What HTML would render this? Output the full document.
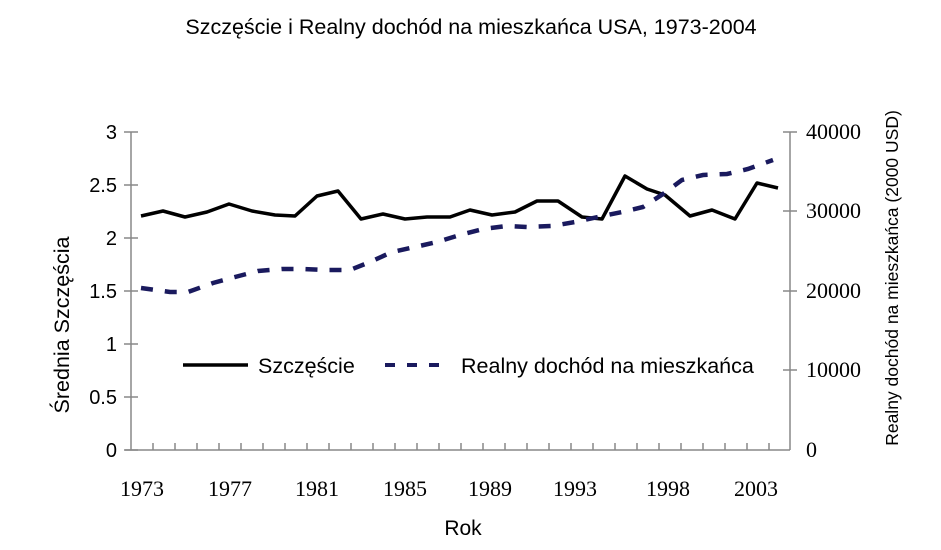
<!DOCTYPE html>
<html><head><meta charset="utf-8"><style>body{margin:0;background:#fff}svg{display:block}</style></head><body>
<svg width="941" height="550" xmlns="http://www.w3.org/2000/svg">
<text x="471" y="34" font-family="Liberation Sans, sans-serif" font-size="21.5" text-anchor="middle">Szczęście i Realny dochód na mieszkańca USA, 1973-2004</text>
<g stroke="#888" stroke-width="1.5" fill="none">
<line x1="131" y1="132" x2="131" y2="450"/>
<line x1="125" y1="450" x2="790" y2="450"/>
<line x1="790" y1="132" x2="790" y2="450"/>
<path d="M124 132h14M124 185h14M124 238h14M124 291h14M124 344h14M124 397h14M124 450h14"/>
<path d="M783 132h14M783 211h14M783 291h14M783 370h14"/>
<path d="M153 450v-7M175 450v-7M197 450v-7M219 450v-7M241 450v-7M263 450v-7M285 450v-7M307 450v-7M329 450v-7M351 450v-7M373 450v-7M395 450v-7M417 450v-7M439 450v-7M461 450v-7M483 450v-7M505 450v-7M527 450v-7M549 450v-7M571 450v-7M593 450v-7M615 450v-7M637 450v-7M659 450v-7M681 450v-7M703 450v-7M725 450v-7M747 450v-7M769 450v-7"/>
</g>
<g font-family="Liberation Sans, sans-serif" font-size="20" text-anchor="end">
<text x="117" y="139">3</text><text x="117" y="192">2.5</text><text x="117" y="245">2</text><text x="117" y="298">1.5</text><text x="117" y="351">1</text><text x="117" y="404">0.5</text><text x="117" y="457">0</text>
</g>
<g font-family="Liberation Serif, serif" font-size="22">
<text x="806" y="139">40000</text><text x="806" y="218">30000</text><text x="806" y="298">20000</text><text x="806" y="377">10000</text><text x="806" y="457">0</text>
</g>
<g font-family="Liberation Serif, serif" font-size="22" text-anchor="middle">
<text x="142" y="496">1973</text><text x="230" y="496">1977</text><text x="317" y="496">1981</text><text x="405" y="496">1985</text><text x="490" y="496">1989</text><text x="575" y="496">1993</text><text x="668" y="496">1998</text><text x="756" y="496">2003</text>
</g>
<text x="463" y="535" font-family="Liberation Sans, sans-serif" font-size="21" text-anchor="middle">Rok</text>
<text transform="translate(69,325) rotate(-90)" font-family="Liberation Sans, sans-serif" font-size="21.5" text-anchor="middle">Średnia Szczęścia</text>
<text transform="translate(898,278) rotate(-90)" font-family="Liberation Sans, sans-serif" font-size="17.5" text-anchor="middle">Realny dochód na mieszkańca (2000 USD)</text>
<polyline fill="none" stroke="#000" stroke-width="3.5" stroke-linejoin="round" points="141,216 163,211 185,217 207,212 229,204 252,211 275,215 295,216 317,196 338,191 361,219 383,214 405,219 427,217 450,217 470,210 492,215 515,212 537,201 558,201 582,217 602,219 625,176 647,189 665,195 690,216 712,210 735,219 757,183 778,188"/>
<polyline fill="none" stroke="#1a1a5e" stroke-width="4.5" stroke-dasharray="12,12" points="141,288 170,292 188,292 213,283 235,277 258,271 282,269 303,269 327,270 350,270 370,262 392,252 415,247 437,242 460,235 483,229 507,226 527,227 552,226 575,222 598,217 622,212 643,207 663,194 682,180 703,175 727,174 748,169 773,160"/>
<line x1="183" y1="365" x2="248" y2="365" stroke="#000" stroke-width="3.5"/>
<text x="258" y="373" font-family="Liberation Sans, sans-serif" font-size="21.5">Szczęście</text>
<line x1="385" y1="365" x2="442" y2="365" stroke="#1a1a5e" stroke-width="4" stroke-dasharray="10,12"/>
<text x="461" y="373" font-family="Liberation Sans, sans-serif" font-size="21.5">Realny dochód na mieszkańca</text>
</svg>
</body></html>
